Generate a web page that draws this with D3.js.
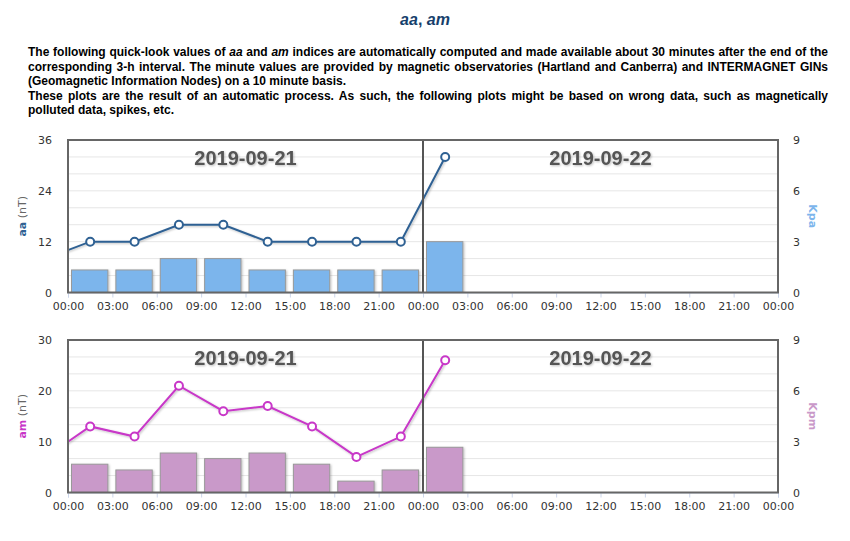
<!DOCTYPE html>
<html>
<head>
<meta charset="utf-8">
<script src="https://cdn.jsdelivr.net/npm/d3@7"></script>
<style>
  body { margin: 0; background: #fff; width: 850px; height: 541px; overflow: hidden; position: relative; }
  #title { position: absolute; left: 0; top: 11px; width: 850px; text-align: center;
           font: bold 16px "Liberation Sans", Arial, sans-serif; color: #163f6c; }
  #title i { font-style: italic; }
  #info { position: absolute; left: 28px; top: 45px; width: 800px;
          font: bold 12px "Liberation Sans", Arial, sans-serif; line-height: 14.5px; color: #000; }
  #info p { margin: 0; text-align: justify; }
  svg { position: absolute; left: 0; top: 0; }
  .tick text { font-family: "DejaVu Sans", Verdana, sans-serif; font-size: 11px; fill: #333; }
</style>
</head>
<body>
<div id="title"><i>aa</i>, <i>am</i></div>
<div id="info">
  <p>The following quick-look values of <i>aa</i> and <i>am</i> indices are automatically computed and made available about 30 minutes after the end of the corresponding 3-h interval. The minute values are provided by magnetic observatories (Hartland and Canberra) and INTERMAGNET GINs (Geomagnetic Information Nodes) on a 10 minute basis.</p>
  <p>These plots are the result of an automatic process. As such, the following plots might be based on wrong data, such as magnetically polluted data, spikes, etc.</p>
</div>
<script>
'use strict';

// data
var days = ['2019-09-21', '2019-09-22'];
var pointTimes = ['2019-09-20T22:30', '2019-09-21T01:30', '2019-09-21T04:30', '2019-09-21T07:30',
    '2019-09-21T10:30', '2019-09-21T13:30', '2019-09-21T16:30', '2019-09-21T19:30',
    '2019-09-21T22:30', '2019-09-22T01:30'];
var aaValues = [8, 12, 12, 16, 16, 12, 12, 12, 12, 32];
var amValues = [7, 13, 11, 21, 16, 17, 13, 7, 11, 26];
var barStarts = ['2019-09-21T00:00', '2019-09-21T03:00', '2019-09-21T06:00', '2019-09-21T09:00',
    '2019-09-21T12:00', '2019-09-21T15:00', '2019-09-21T18:00', '2019-09-21T21:00',
    '2019-09-22T00:00'];
var kpaValues = [1.33, 1.33, 2, 2, 1.33, 1.33, 1.33, 1.33, 3];
var kpmValues = [1.67, 1.33, 2.33, 2, 2.33, 1.67, 0.67, 1.33, 2.67];
var aaTicks = [0, 12, 24, 36];
var amTicks = [0, 10, 20, 30];
var kpTicks = [0, 3, 6, 9];

var parse = d3.utcParse('%Y-%m-%dT%H:%M');
var dayStart = parse(days[0] + 'T00:00');
var dayEnd = d3.utcDay.offset(dayStart, 2);

var svg = d3.select('body').append('svg')
    .attr('width', 850)
    .attr('height', 541);

var defs = svg.append('defs');
var shadow = defs.append('filter').attr('id', 'shadow')
    .attr('x', '-20%').attr('y', '-20%').attr('width', '140%').attr('height', '140%');
shadow.append('feDropShadow')
    .attr('dx', 1).attr('dy', 1).attr('stdDeviation', 1)
    .attr('flood-color', '#000').attr('flood-opacity', 0.25);

var left = 68, right = 778;

var x = d3.scaleUtc()
    .domain([dayStart, dayEnd])
    .range([left, right]);

var buildPanel = function(opts, idx){
    var top = opts.top, bottom = opts.top + 152.5;
    var yLeft = d3.scaleLinear().domain([0, opts.leftTicks[3]]).range([bottom, top]);
    var yRight = d3.scaleLinear().domain([0, 9]).range([bottom, top]);

    var g = svg.append('g');

    defs.append('clipPath').attr('id', 'clip' + idx)
        .append('rect')
        .attr('x', left).attr('y', top)
        .attr('width', right - left).attr('height', bottom - top);

    // grid
    g.append('g').selectAll('line')
        .data(d3.range(1, 9))
        .enter()
        .append('line')
        .attr('x1', left).attr('x2', right)
        .attr('y1', function(d){ return yRight(d); })
        .attr('y2', function(d){ return yRight(d); })
        .attr('stroke', '#e6e6e6')
        .attr('stroke-width', 1);

    // x axis
    var xAxis = g.append('g')
        .attr('transform', 'translate(0,' + bottom + ')')
        .call(d3.axisBottom(x)
            .ticks(d3.utcHour.every(3))
            .tickFormat(d3.utcFormat('%H:%M'))
            .tickSize(5)
            .tickPadding(5));
    xAxis.selectAll('line').attr('stroke', '#ccd6eb');
    xAxis.select('.domain').attr('stroke', '#ccd6eb');

    // y axes
    var ly = g.append('g')
        .attr('transform', 'translate(' + left + ',0)')
        .call(d3.axisLeft(yLeft).tickValues(opts.leftTicks).tickSize(0).tickPadding(16));
    ly.select('.domain').remove();

    var ry = g.append('g')
        .attr('transform', 'translate(' + right + ',0)')
        .call(d3.axisRight(yRight).tickValues(kpTicks).tickSize(0).tickPadding(15));
    ry.select('.domain').remove();

    // axis titles
    var lt = g.append('text')
        .attr('transform', 'translate(26,' + (top + bottom) / 2 + ') rotate(-90)')
        .attr('text-anchor', 'middle')
        .style('font-family', '"DejaVu Sans", Verdana, sans-serif')
        .style('font-size', '11px');
    lt.append('tspan').attr('font-weight', 'bold').attr('fill', opts.lineColor).text(opts.name);
    lt.append('tspan').attr('fill', '#666').text(' (nT)');

    g.append('text')
        .attr('transform', 'translate(809,' + (top + bottom) / 2 + ') rotate(90)')
        .attr('text-anchor', 'middle')
        .style('font-family', '"DejaVu Sans", Verdana, sans-serif')
        .style('font-size', '11px')
        .attr('font-weight', 'bold')
        .attr('fill', opts.barColor)
        .text(opts.kpName);

    // day labels
    g.append('g').selectAll('text')
        .data(days)
        .enter()
        .append('text')
        .attr('x', function(d){
            var s = parse(d + 'T00:00');
            return (x(s) + x(d3.utcDay.offset(s, 1))) / 2;
        })
        .attr('y', top + 25)
        .attr('text-anchor', 'middle')
        .style('font', 'bold 20px "Liberation Sans", Arial, sans-serif')
        .attr('fill', '#555')
        .attr('filter', 'url(#shadow)')
        .text(function(d){ return d; });

    var plot = g.append('g').attr('clip-path', 'url(#clip' + idx + ')');

    // bars
    plot.append('g').selectAll('rect')
        .data(barStarts.map(function(t, i){ return {t: parse(t), v: opts.kp[i]}; }))
        .enter()
        .append('rect')
        .attr('x', function(d){ return x(d.t) + 3.5; })
        .attr('width', function(d){ return x(d3.utcHour.offset(d.t, 3)) - x(d.t) - 8; })
        .attr('y', function(d){ return yRight(d.v); })
        .attr('height', function(d){ return bottom - yRight(d.v); })
        .attr('fill', opts.barColor)
        .attr('stroke', '#999')
        .attr('stroke-width', 1)
        .attr('filter', 'url(#shadow)');

    // line + markers
    var pts = pointTimes.map(function(t, i){ return {t: parse(t), v: opts.values[i]}; });
    var line = d3.line()
        .x(function(d){ return x(d.t); })
        .y(function(d){ return yLeft(d.v); });

    plot.append('path')
        .datum(pts)
        .attr('d', line)
        .attr('fill', 'none')
        .attr('stroke', opts.lineColor)
        .attr('stroke-width', 2)
        .attr('filter', 'url(#shadow)');

    plot.append('g').selectAll('circle')
        .data(pts)
        .enter()
        .append('circle')
        .attr('cx', function(d){ return x(d.t); })
        .attr('cy', function(d){ return yLeft(d.v); })
        .attr('r', 4)
        .attr('fill', '#fff')
        .attr('stroke', opts.lineColor)
        .attr('stroke-width', 2);

    // day divider and frame
    g.append('line')
        .attr('x1', x(d3.utcDay.offset(dayStart, 1))).attr('x2', x(d3.utcDay.offset(dayStart, 1)))
        .attr('y1', top).attr('y2', bottom)
        .attr('stroke', '#555')
        .attr('stroke-width', 2);

    g.append('rect')
        .attr('x', left).attr('y', top)
        .attr('width', right - left).attr('height', bottom - top)
        .attr('fill', 'none')
        .attr('stroke', '#666')
        .attr('stroke-width', 2);
};

buildPanel({top: 140, leftTicks: aaTicks, values: aaValues, kp: kpaValues,
    name: 'aa', kpName: 'Kpa', lineColor: '#2f6193', barColor: '#7cb5ec'}, 0);
buildPanel({top: 340, leftTicks: amTicks, values: amValues, kp: kpmValues,
    name: 'am', kpName: 'Kpm', lineColor: '#c837c8', barColor: '#c999c9'}, 1);
</script>
</body>
</html>
